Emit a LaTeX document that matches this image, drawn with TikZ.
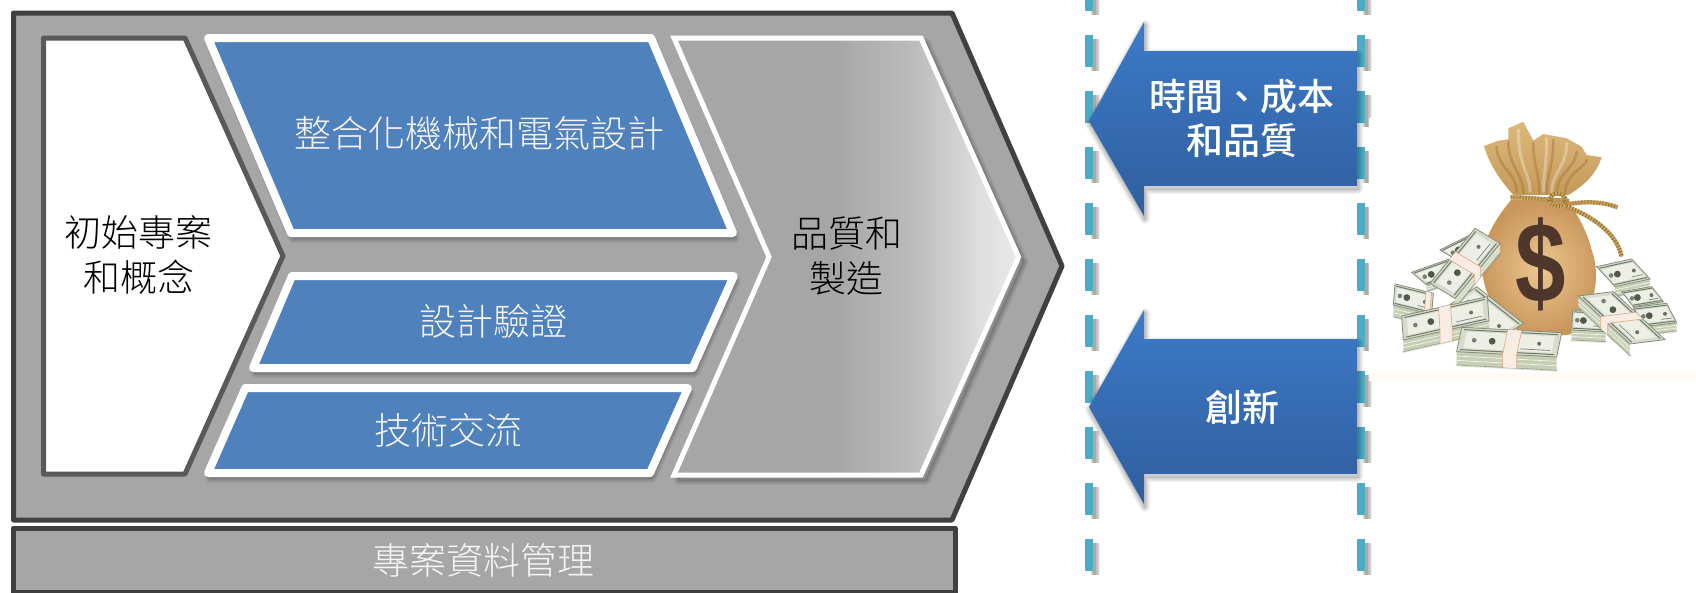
\documentclass[tikz,border=0pt]{standalone}
\usepackage{fontspec}
\usetikzlibrary{calc}
\setmainfont{Liberation Sans}
\newfontfamily\cjk{Noto Sans CJK TC Light}
\newfontfamily\cjkm{Noto Sans CJK TC Medium}
\definecolor{panelgray}{HTML}{A6A6A6}
\definecolor{frame}{HTML}{404040}
\definecolor{frameinner}{HTML}{595959}
\definecolor{blueblock}{HTML}{4F81BD}
\definecolor{dashteal}{HTML}{4BACC6}
\definecolor{arrowtop}{HTML}{3D7AC8}
\definecolor{arrowbot}{HTML}{2F5E9E}
\definecolor{billface}{HTML}{D6DBCC}
\definecolor{billlight}{HTML}{EDEFE6}
\definecolor{billdark}{HTML}{4F5A48}
\definecolor{billside}{HTML}{C6CEB4}
\definecolor{straporange}{HTML}{E3A485}
\definecolor{strappale}{HTML}{F8EDE2}
\definecolor{clothtop}{HTML}{DDB87C}
\definecolor{clothbot}{HTML}{C49A58}
\definecolor{clothdark}{HTML}{A67C40}
\definecolor{bagin}{HTML}{EDC792}
\definecolor{bagout}{HTML}{C8955A}
\definecolor{dollarbrown}{HTML}{4E362B}
\definecolor{rope}{HTML}{C9A35C}
\definecolor{ropedark}{HTML}{8F6C30}
\pgfdeclarehorizontalshading{chevshade}{100bp}{color(0bp)=(panelgray); color(48bp)=(panelgray); color(60bp)=(panelgray!75!white); color(70bp)=(panelgray!35!white); color(76bp)=(panelgray!22!white); color(100bp)=(panelgray!22!white)}
\tikzset{
  blueshape/.style={fill=blueblock,draw=white,line width=8pt,line join=round},
  lbl/.style={inner sep=0pt,align=center,font=\cjk\fontsize{37}{44.5}\selectfont},
  lblwhite/.style={lbl,text=white!96!black},
  lblbold/.style={lbl,text=white,font=\cjkm\fontsize{37}{43.5}\selectfont},
  dashline/.style={line width=8pt,dash pattern=on 32pt off 24pt},
  arrowshape/.style={top color=arrowtop,bottom color=arrowbot,draw=none},
  ropebase/.style={rope,line width=4.2pt},
  ropetwist/.style={ropedark,line width=4.2pt,dash pattern=on .8pt off 2.2pt},
}
% soft shadow: several translucent strokes around a shifted path
\newcommand\softshadow[3]{%
  \foreach \w/\o in {10/.05,7/.07,4/.08,1/.1}{%
    \draw[black,opacity=\o,line width=\w pt,line join=round,shift={(#2,#3)}] #1;}}
% one bundle of bills: corners A, B, D (C follows), thickness, strap place (<0: none)
\newcommand\bundle[8]{%
  \coordinate (A) at (#1,#2); \coordinate (B) at (#3,#4); \coordinate (D) at (#5,#6);
  \coordinate (C) at ($(B)+(D)-(A)$);
  \fill[black,opacity=.12] ($(D)+(0,#7+4)$)--($(C)+(0,#7+4)$)--($(C)+(6,#7)$)--($(D)+(-6,#7)$)--cycle;
  \fill[billside] (A)--(B)--(C)--($(C)+(0,#7)$)--($(D)+(0,#7)$)--(D)--cycle;
  \foreach \f in {.33,.66}{\draw[white!80!billside,line width=.7pt] ($(D)+(0,#7*\f)$)--($(C)+(0,#7*\f)$);}
  \draw[billdark!40!billside,line width=.6pt] ($(C)+(0,#7)$)--($(D)+(0,#7)$);
  \fill[billface] (A)--(B)--(C)--(D)--cycle;
  \fill[billlight] ($(A)!.06!(B)+.16*(D)-.16*(A)$)--($(A)!.94!(B)+.16*(D)-.16*(A)$)--($(A)!.94!(B)+.84*(D)-.84*(A)$)--($(A)!.06!(B)+.84*(D)-.84*(A)$)--cycle;
  \draw[billdark!75!billface,line width=1pt] ($(A)!.03!(B)+.09*(D)-.09*(A)$)--($(A)!.97!(B)+.09*(D)-.09*(A)$);
  \draw[billdark!75!billface,line width=1pt] ($(A)!.03!(B)+.91*(D)-.91*(A)$)--($(A)!.97!(B)+.91*(D)-.91*(A)$);
  \draw[billdark!60!billface,line width=.8pt] (A)--(B)--(C)--(D)--cycle;
  \fill[billdark] ($(A)!.33!(B)+.5*(D)-.5*(A)$) circle (3.4pt);
  \fill[billdark!70!billface] ($(A)!.15!(B)+.5*(D)-.5*(A)$) circle (2.3pt);
  \fill[billdark!80!billface] ($(A)!.80!(B)+.5*(D)-.5*(A)$) circle (2pt);
  \draw[billdark!60!billface,line width=.8pt] ($(A)!.62!(B)+.75*(D)-.75*(A)$)--($(A)!.92!(B)+.75*(D)-.75*(A)$);
  \ifdim#8pt>0pt
    \fill[strappale] ($(A)!#8-.07!(B)$)--($(A)!#8+.07!(B)$)--($(D)!#8+.07!(C)$)--($(D)!#8+.07!(C)+(0,#7)$)--($(D)!#8-.07!(C)+(0,#7)$)--($(D)!#8-.07!(C)$)--cycle;
    \draw[straporange,line width=.6pt] ($(A)!#8-.07!(B)$)--($(D)!#8-.07!(C)$)--($(D)!#8-.07!(C)+(0,#7)$);
    \draw[straporange,line width=.6pt] ($(A)!#8+.07!(B)$)--($(D)!#8+.07!(C)$)--($(D)!#8+.07!(C)+(0,#7)$);
  \fi
}
\begin{document}
\begin{tikzpicture}[x=1pt,y=-1pt]
\useasboundingbox (0,0) rectangle (1696,592);
\clip (0,0) rectangle (1696,592);
\fill[white] (0,0) rectangle (1696,592);

% main pentagon and data bar
\draw[fill=panelgray,draw=frame,line width=5pt,line join=round] (13.5,13)--(952,13)--(1062,266)--(952,520)--(13.5,520)--cycle;
\draw[fill=panelgray,draw=frame,line width=5pt,line join=round] (13.5,528)--(955,528)--(955,592)--(13.5,592)--cycle;

% initial chevron
\draw[fill=white,draw=frameinner,line width=5pt,line join=round] (43.5,38)--(185,38)--(283,256)--(185,474)--(43.5,474)--cycle;

% blue blocks
\def\blockA{(208,38)--(651,38)--(733,233)--(291,233)--cycle}
\def\blockB{(292,276)--(733.8,276)--(692.6,368)--(253,368)--cycle}
\def\blockC{(245.4,388)--(688,388)--(650,473)--(208,473)--cycle}
\softshadow{\blockA}{2}{5}
\softshadow{\blockB}{2}{5}
\softshadow{\blockC}{2}{5}
\draw[blueshape] \blockA;
\draw[blueshape] \blockB;
\draw[blueshape] \blockC;

% quality chevron
\def\chev{(674,38)--(921,38)--(1018.6,257)--(921,475)--(674,475)--(769,257)--cycle}
\softshadow{\chev}{5}{5}
\draw[shading=chevshade,draw=white,line width=5pt,line join=miter] \chev;

% dashed boundaries
\foreach \xx in {1089,1361}{
  \foreach \w/\o in {10/.07,8/.09,6/.1,3/.12}{
    \draw[black,opacity=\o,line width=\w pt,dash pattern=on 32pt off 24pt] (\xx+5.5,-17)--(\xx+5.5,576);}
  \draw[dashteal,dashline] (\xx,-21)--(\xx,571);
}

% left arrows
\def\arrowA{(1089,121)--(1144,22)--(1144,51)--(1357,51)--(1357,186)--(1144,186)--(1144,216)--cycle}
\def\arrowB{(1089,407)--(1144,310)--(1144,339)--(1357,339)--(1357,474)--(1144,474)--(1144,504)--cycle}
\softshadow{\arrowA}{1}{3}
\softshadow{\arrowB}{1}{3}
\shade[arrowshape] \arrowA;
\shade[arrowshape] \arrowB;

% money picture backdrop
\fill[white] (1369,118) rectangle (1696,381);
\fill[orange!4!white] (1369,373) rectangle (1696,381);

% money bag and bills
\begin{scope}[shift={(1380,110)},x=.3333pt,y=-.3333pt]
  % bills behind the bag
  \bundle{650}{470}{755}{447}{705}{530}{30}{-1}
  \bundle{725}{545}{815}{530}{760}{590}{15}{-1}
  % lower bag
  \shade[inner color=bagin,outer color=bagout,shading=radial]
    (395,268) .. controls (350,320) and (300,400) .. (305,470)
    .. controls (310,540) and (340,620) .. (420,665)
    .. controls (480,680) and (560,680) .. (590,668)
    .. controls (640,600) and (665,500) .. (635,420)
    .. controls (620,360) and (590,310) .. (565,275) -- cycle;
  % cloth above the rope
  \shade[top color=clothtop,bottom color=clothbot] (312,108) -- (355,92) -- (385,88) -- (385,55) -- (430,35) -- (460,92) -- (490,72) -- (560,85)
    -- (605,110) -- (620,135) -- (665,142) .. controls (650,190) and (615,225) .. (565,255)
    -- (400,255) .. controls (365,215) and (330,170) .. (312,108) -- cycle;
  \foreach \ax/\ay/\bx/\by in {385/95/430/250,460/100/478/250,520/90/500/250,350/110/410/245,590/125/530/250,620/150/555/250}{
    \draw[clothdark,opacity=.5,line width=2.6pt,line cap=round] (\ax,\ay) .. controls (\ax,170) and (\bx,190) .. (\bx,\by);
  }
  \foreach \ax/\ay/\bx/\by in {415/60/450/245,500/85/490/245,560/100/515/245}{
    \draw[white,opacity=.3,line width=3pt,line cap=round] (\ax,\ay) .. controls (\ax,170) and (\bx,190) .. (\bx,\by);
  }
  % rope
  \foreach \sty in {ropebase,ropetwist}{
    \draw[\sty] (392,262) .. controls (450,262) and (500,270) .. (568,272);
    \draw[\sty] (510,265) .. controls (520,240) and (565,250) .. (555,280) .. controls (540,300) and (505,285) .. (510,265);
    \draw[\sty] (560,283) .. controls (610,275) and (660,272) .. (712,292);
    \draw[\sty] (560,290) .. controls (640,320) and (710,370) .. (725,440);
  }
  % dollar sign
  \node[inner sep=0pt,text=dollarbrown,font=\fontsize{84}{84}\selectfont\bfseries,xscale=1.08,yscale=1.36,transform shape] (dollar) at (481,462) {\$};
  % bills in front
  \bundle{578}{600}{680}{605}{575}{660}{30}{-1}
  \bundle{760}{592}{860}{580}{790}{650}{25}{-1}
  \bundle{700}{545}{855}{689}{595}{558}{35}{.5}
  \bundle{95}{487}{205}{448}{140}{525}{20}{-1}
  \bundle{180}{420}{270}{375}{230}{450}{15}{-1}
  \bundle{45}{522}{160}{550}{40}{585}{35}{.88}
  \bundle{290}{530}{430}{640}{200}{590}{25}{-1}
  \bundle{150}{520}{285}{355}{225}{565}{30}{.5}
  \bundle{65}{618}{322}{560}{70}{690}{35}{.5}
  \bundle{245}{652}{545}{668}{230}{725}{40}{.53}
\end{scope}

% labels
\node[lbl] (init) at (138.5,255) {初始專案\\和概念};
\node[lblwhite] (mech) at (479,133) {整合化機械和電氣設計};
\node[lblwhite] (verify) at (493,321) {設計驗證};
\node[lblwhite] (tech) at (448,430) {技術交流};
\node[lbl] (qual) at (846.5,256) {品質和\\製造};
\node[lblwhite] (pdm) at (483.5,560) {專案資料管理};
\node[lblbold] (tcq) at (1242,118.5) {時間、成本\\和品質};
\node[lblbold] (innov) at (1242,407) {創新};
\end{tikzpicture}
\end{document}
